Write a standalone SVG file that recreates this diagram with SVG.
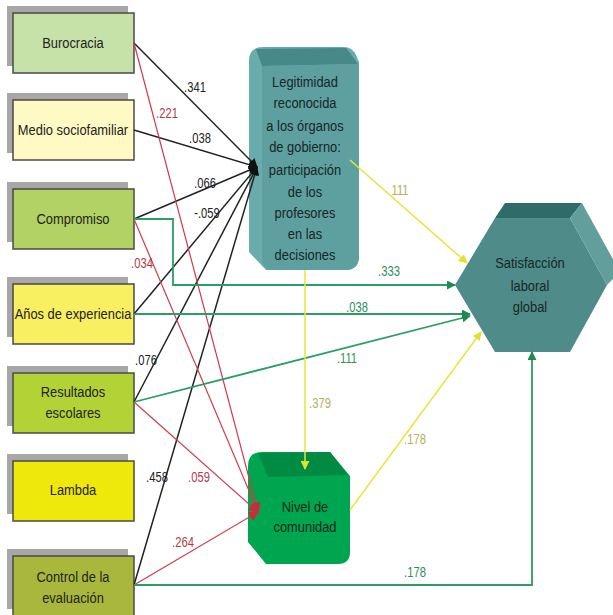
<svg xmlns="http://www.w3.org/2000/svg" width="613" height="615" viewBox="0 0 613 615">
<style>
.sh{fill:#a7a7a7}
.bx{stroke:#4a4a4a;stroke-width:1.5}
.bt{font-family:"Liberation Sans",Arial,sans-serif;font-size:15px;fill:#222;text-anchor:middle}
.nt{font-family:"Liberation Sans",Arial,sans-serif;font-size:15px;fill:#182626;text-anchor:middle}
.lb{font-family:"Liberation Sans",Arial,sans-serif;font-size:14px;text-anchor:middle}
.k{stroke:#222;stroke-width:1.5;fill:none}
.r{stroke:#d03a4c;stroke-width:1.2;fill:none}
.g{stroke:#2a9e66;stroke-width:1.8;fill:none}
.y{stroke:#e6e63a;stroke-width:1.5;fill:none}
.lk{fill:#222}.lr{fill:#b23a48}.lg{fill:#2c8e5c}.ly{fill:#b0b05a}
</style>
<defs>
<marker id="ak" viewBox="0 0 10 10" refX="9" refY="5" markerWidth="9" markerHeight="9" markerUnits="userSpaceOnUse" orient="auto"><path d="M0,0 L10,5 L0,10 Z" fill="#111"/></marker>
<marker id="ar" viewBox="0 0 10 10" refX="9" refY="5" markerWidth="10" markerHeight="10" markerUnits="userSpaceOnUse" orient="auto"><path d="M0,0 L10,5 L0,10 Z" fill="#d0283c"/></marker>
<marker id="ag" viewBox="0 0 10 10" refX="9" refY="5" markerWidth="9" markerHeight="9" markerUnits="userSpaceOnUse" orient="auto"><path d="M0,0 L10,5 L0,10 Z" fill="#1f8a50"/></marker>
<marker id="ay" viewBox="0 0 10 10" refX="9" refY="5" markerWidth="9" markerHeight="9" markerUnits="userSpaceOnUse" orient="auto"><path d="M0,0 L10,5 L0,10 Z" fill="#e0e030"/></marker>
</defs>

<g id="burocracia">
<rect class="sh" x="7" y="6" width="121" height="60"/>
<rect class="bx" x="13" y="13" width="121" height="60" fill="#c6e2a9"/>
<text class="bt" transform="translate(73,48) scale(0.86,1)">Burocracia</text>
</g>
<g id="medio">
<rect class="sh" x="7" y="93" width="121" height="60"/>
<rect class="bx" x="13" y="100" width="121" height="60" fill="#fffac4"/>
<text class="bt" transform="translate(73,135) scale(0.86,1)">Medio sociofamiliar</text>
</g>
<g id="compromiso">
<rect class="sh" x="7" y="182" width="121" height="60"/>
<rect class="bx" x="13" y="189" width="121" height="60" fill="#b2d263"/>
<text class="bt" transform="translate(73,224) scale(0.86,1)">Compromiso</text>
</g>
<g id="anos">
<rect class="sh" x="7" y="277" width="121" height="60"/>
<rect class="bx" x="13" y="284" width="121" height="60" fill="#f8ef61"/>
<text class="bt" transform="translate(73,319) scale(0.86,1)">Años de experiencia</text>
</g>
<g id="resultados">
<rect class="sh" x="7" y="366" width="121" height="60"/>
<rect class="bx" x="13" y="373" width="121" height="60" fill="#b2d236"/>
<text class="bt" transform="translate(73,397) scale(0.86,1)">Resultados</text>
<text class="bt" transform="translate(73,418) scale(0.86,1)">escolares</text>
</g>
<g id="lambda">
<rect class="sh" x="7" y="454" width="121" height="60"/>
<rect class="bx" x="13" y="461" width="121" height="60" fill="#eee90a"/>
<text class="bt" transform="translate(73,495) scale(0.86,1)">Lambda</text>
</g>
<g id="control">
<rect class="sh" x="7" y="549" width="121" height="60"/>
<rect class="bx" x="13" y="556" width="121" height="60" fill="#a9b83c"/>
<text class="bt" transform="translate(73,582) scale(0.86,1)">Control de la</text>
<text class="bt" transform="translate(73,603) scale(0.86,1)">evaluación</text>
</g>

<g id="legitimidad">
<path d="M263,47 L344,47 Q352,47 356,55 L359,62 L359,256 Q359,270 345,270 L266,270 L249,252 L249,61 Q249,47 263,47 Z" fill="#6aacac"/>
<path d="M256,49 L346,48 L358,64 L262,66 Z" fill="#478888"/>
<path d="M262,66 L359,64 L359,256 Q359,270 345,270 L274,270 Q262,270 262,258 Z" fill="#5e9fa0"/>
<text class="nt" transform="translate(305,87) scale(0.86,1)">Legitimidad</text>
<text class="nt" transform="translate(305,108) scale(0.86,1)">reconocida</text>
<text class="nt" transform="translate(305,131) scale(0.86,1)">a los órganos</text>
<text class="nt" transform="translate(305,152) scale(0.86,1)">de gobierno:</text>
<text class="nt" transform="translate(305,175) scale(0.86,1)">participación</text>
<text class="nt" transform="translate(305,197) scale(0.86,1)">de los</text>
<text class="nt" transform="translate(305,218) scale(0.86,1)">profesores</text>
<text class="nt" transform="translate(305,239) scale(0.86,1)">en las</text>
<text class="nt" transform="translate(305,260) scale(0.86,1)">decisiones</text>
</g>

<g id="nivel">
<path d="M262,452 L330,452 L350,476 L350,552 Q350,564 338,564 L266,564 L248,542 L248,466 Q248,452 262,452 Z" fill="#00a550"/>
<path d="M258,453 L330,452 L348,475 L268,477 Z" fill="#008a42"/>
<text class="nt" transform="translate(305,512) scale(0.86,1)" style="fill:#102a18">Nivel de</text>
<text class="nt" transform="translate(305,532) scale(0.86,1)" style="fill:#102a18">comunidad</text>
</g>

<g id="satisfaccion">
<polygon points="455,285 495,218 570,218 607,285 570,352 495,352" fill="#4f8b89"/>
<polygon points="495,218 505,203 582,203 570,218" fill="#2f6c69"/>
<polygon points="570,218 582,203 620,272 607,285" fill="#619e9c"/>
<text class="nt" transform="translate(530,268) scale(0.86,1)">Satisfacción</text>
<text class="nt" transform="translate(530,291) scale(0.86,1)">laboral</text>
<text class="nt" transform="translate(530,312) scale(0.86,1)">global</text>
</g>

<g id="connectors">
<line class="k" x1="134" y1="43" x2="257" y2="167" marker-end="url(#ak)"/>
<line class="k" x1="134" y1="130" x2="257" y2="167" marker-end="url(#ak)"/>
<line class="k" x1="134" y1="219" x2="257" y2="167" marker-end="url(#ak)"/>
<line class="k" x1="134" y1="314" x2="257" y2="167" marker-end="url(#ak)"/>
<line class="k" x1="134" y1="402" x2="257" y2="167" marker-end="url(#ak)"/>
<line class="k" x1="134" y1="585" x2="257" y2="167" marker-end="url(#ak)"/>
<line class="r" x1="134" y1="43" x2="258" y2="512" marker-end="url(#ar)"/>
<line class="r" x1="134" y1="219" x2="258" y2="512" marker-end="url(#ar)"/>
<line class="r" x1="134" y1="402" x2="258" y2="512" marker-end="url(#ar)"/>
<line class="r" x1="134" y1="585" x2="258" y2="512" marker-end="url(#ar)"/>
<polyline class="g" points="134,219 173,219 173,285 455,285" marker-end="url(#ag)"/>
<line class="g" x1="134" y1="314" x2="470" y2="314" marker-end="url(#ag)"/>
<line class="g" x1="134" y1="402" x2="470" y2="316" marker-end="url(#ag)"/>
<polyline class="g" points="134,585 532,585 532,352" marker-end="url(#ag)"/>
<line class="y" x1="350" y1="160" x2="467" y2="263" marker-end="url(#ay)"/>
<line class="y" x1="305" y1="270" x2="305" y2="469" marker-end="url(#ay)"/>
<line class="y" x1="350" y1="510" x2="481" y2="332" marker-end="url(#ay)"/>
<text class="lb lk" transform="translate(195,92) scale(0.8,1)">.341</text>
<text class="lb lr" transform="translate(167,118) scale(0.8,1)">.221</text>
<text class="lb lk" transform="translate(200,143) scale(0.8,1)">.038</text>
<text class="lb lk" transform="translate(205,188) scale(0.8,1)">.066</text>
<text class="lb lk" transform="translate(207,218) scale(0.8,1)">-.059</text>
<text class="lb lr" transform="translate(142,268) scale(0.8,1)">.034</text>
<text class="lb lk" transform="translate(146,365) scale(0.8,1)">.076</text>
<text class="lb lk" transform="translate(157,482) scale(0.8,1)">.458</text>
<text class="lb lr" transform="translate(199,482) scale(0.8,1)">.059</text>
<text class="lb lr" transform="translate(183,547) scale(0.8,1)">.264</text>
<text class="lb ly" transform="translate(400,195) scale(0.8,1)">111</text>
<text class="lb lg" transform="translate(389,276) scale(0.8,1)">.333</text>
<text class="lb lg" transform="translate(357,312) scale(0.8,1)">.038</text>
<text class="lb lg" transform="translate(347,363) scale(0.8,1)">.111</text>
<text class="lb ly" transform="translate(320,408) scale(0.8,1)">.379</text>
<text class="lb ly" transform="translate(415,444) scale(0.8,1)">.178</text>
<text class="lb lg" transform="translate(415,577) scale(0.8,1)">.178</text>
</g>
</svg>
